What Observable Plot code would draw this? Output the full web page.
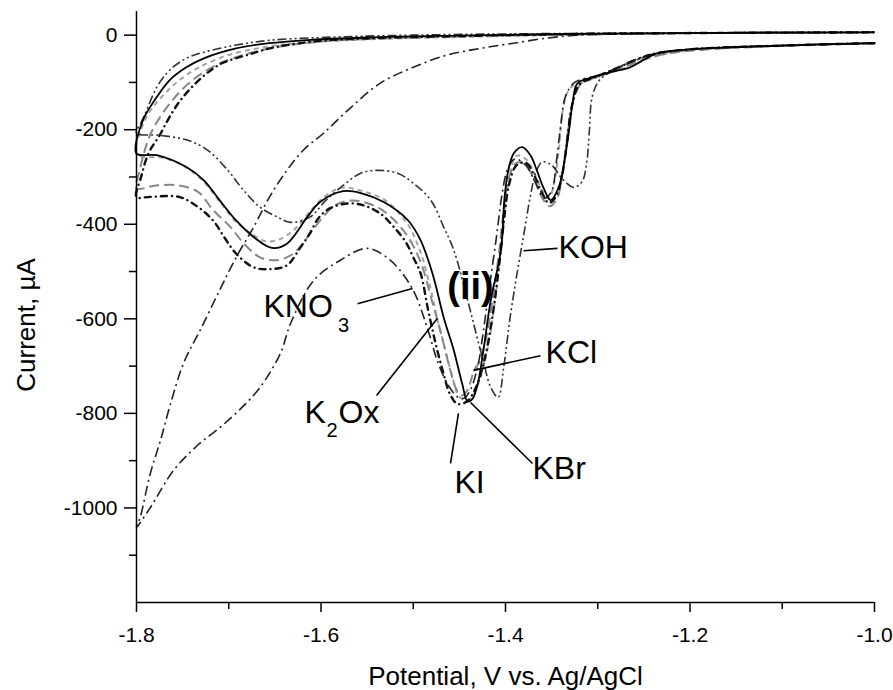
<!DOCTYPE html>
<html>
<head>
<meta charset="utf-8">
<script src="https://cdn.jsdelivr.net/npm/d3@7"></script>
<script src="https://cdn.jsdelivr.net/npm/@observablehq/plot@0.6"></script>
<style>
  html, body { margin: 0; padding: 0; background: #fff; overflow: hidden; }
  #chart svg { display: block; }
</style>
</head>
<body>
<div id="chart"></div>
<script>
// Cyclic voltammograms (ii) in different potassium electrolytes.
// Each loop: negative-going scan from -1.0 V to -1.8 V, then the return scan.

// K2Ox (potassium oxalate)
const k2oxV = [-1.000,-1.100,-1.200,-1.238,-1.258,-1.275,-1.295,-1.315,-1.330,-1.338,-1.342,-1.347,-1.353,-1.360,-1.368,-1.378,-1.388,-1.395,-1.400,-1.405,-1.412,-1.420,-1.430,-1.440,-1.450,-1.458,-1.466,-1.474,-1.482,-1.492,-1.506,-1.530,-1.555,-1.578,-1.597,-1.615,-1.630,-1.645,-1.660,-1.675,-1.692,-1.710,-1.727,-1.746,-1.770,-1.800,
               -1.795,-1.785,-1.770,-1.752,-1.730,-1.700,-1.660,-1.620,-1.550,-1.450,-1.300,-1.150,-1.000];
const k2oxI = [-17,-22,-32,-45,-60,-72,-85,-100,-112,-160,-240,-310,-345,-330,-295,-262,-255,-290,-360,-460,-570,-670,-740,-772,-765,-720,-660,-599,-530,-460,-400,-350,-330,-323,-343,-380,-413,-432,-436,-420,-395,-352,-310,-280,-260,-252,
               -200,-160,-125,-93,-66,-42,-25,-16,-9,-4,2,5,6];

// KCl
const kclV = [-1.000,-1.100,-1.200,-1.240,-1.262,-1.280,-1.300,-1.318,-1.328,-1.333,-1.338,-1.344,-1.352,-1.360,-1.368,-1.378,-1.388,-1.396,-1.402,-1.407,-1.414,-1.422,-1.428,-1.434,-1.441,-1.447,-1.453,-1.461,-1.470,-1.480,-1.492,-1.508,-1.530,-1.550,-1.568,-1.585,-1.598,-1.610,-1.630,-1.648,-1.666,-1.684,-1.698,-1.717,-1.733,-1.754,-1.779,-1.800,
              -1.797,-1.792,-1.785,-1.775,-1.762,-1.748,-1.730,-1.710,-1.688,-1.660,-1.630,-1.590,-1.530,-1.450,-1.300,-1.150,-1.000];
const kclI = [-17,-23,-33,-45,-60,-73,-88,-103,-150,-215,-290,-345,-362,-345,-310,-275,-270,-300,-370,-460,-560,-650,-690,-709,-750,-762,-750,-700,-630,-560,-480,-420,-375,-355,-350,-360,-385,-415,-462,-476,-470,-440,-406,-370,-332,-318,-318,-324,
              -290,-250,-210,-175,-140,-110,-82,-60,-44,-30,-20,-12,-7,-3,2,5,6];

// KOH
const kohV = [-1.000,-1.100,-1.200,-1.240,-1.265,-1.283,-1.298,-1.306,-1.309,-1.312,-1.317,-1.326,-1.338,-1.350,-1.360,-1.367,-1.373,-1.380,-1.388,-1.395,-1.402,-1.408,-1.416,-1.424,-1.432,-1.441,-1.456,-1.467,-1.481,-1.500,-1.517,-1.539,-1.557,-1.576,-1.595,-1.612,-1.633,-1.647,-1.666,-1.684,-1.701,-1.723,-1.745,-1.774,-1.800,
              -1.795,-1.789,-1.778,-1.764,-1.746,-1.727,-1.692,-1.656,-1.600,-1.500,-1.300,-1.000];
const kohI = [-17,-22,-30,-42,-58,-75,-95,-130,-200,-270,-310,-322,-305,-275,-268,-290,-340,-420,-510,-597,-703,-766,-745,-690,-630,-561,-455,-406,-349,-313,-292,-286,-292,-318,-350,-385,-396,-385,-364,-328,-286,-243,-222,-212,-207,
              -185,-159,-110,-74,-49,-36,-21,-11,-5,0,4,6];

// KNO3
const kno3V = [-1.000,-1.100,-1.200,-1.240,-1.260,-1.280,-1.300,-1.325,-1.335,-1.340,-1.345,-1.350,-1.358,-1.368,-1.378,-1.390,-1.398,-1.404,-1.410,-1.418,-1.425,-1.430,-1.438,-1.445,-1.452,-1.463,-1.474,-1.485,-1.501,-1.525,-1.550,-1.579,-1.608,-1.633,-1.644,-1.666,-1.687,-1.709,-1.734,-1.760,-1.785,-1.800,
               -1.796,-1.785,-1.774,-1.763,-1.749,-1.731,-1.710,-1.692,-1.673,-1.656,-1.637,-1.619,-1.597,-1.571,-1.536,-1.500,-1.463,-1.427,-1.391,-1.354,-1.320,-1.250,-1.150,-1.000];
const kno3I = [-17,-22,-30,-40,-52,-70,-85,-100,-130,-190,-270,-330,-345,-310,-275,-262,-285,-340,-430,-540,-640,-700,-750,-768,-765,-737,-688,-618,-536,-476,-451,-476,-519,-610,-673,-745,-790,-829,-868,-921,-999,-1041,
               -1020,-927,-857,-779,-694,-624,-540,-470,-406,-343,-286,-243,-207,-159,-102,-68,-42,-28,-17,-6,0,3,5,6];

// KI
const kiV = [-1.000,-1.100,-1.200,-1.240,-1.262,-1.282,-1.302,-1.320,-1.328,-1.333,-1.338,-1.345,-1.353,-1.360,-1.368,-1.378,-1.388,-1.396,-1.401,-1.406,-1.413,-1.422,-1.432,-1.442,-1.452,-1.460,-1.468,-1.476,-1.484,-1.492,-1.500,-1.508,-1.521,-1.536,-1.554,-1.571,-1.590,-1.602,-1.612,-1.623,-1.637,-1.656,-1.673,-1.692,-1.705,-1.717,-1.733,-1.754,-1.785,-1.800,
             -1.795,-1.787,-1.775,-1.765,-1.754,-1.740,-1.724,-1.708,-1.689,-1.673,-1.656,-1.637,-1.600,-1.550,-1.450,-1.300,-1.000];
const kiI = [-17,-22,-30,-40,-55,-72,-88,-105,-150,-220,-290,-340,-355,-335,-300,-270,-275,-315,-380,-470,-580,-680,-745,-775,-780,-760,-710,-650,-580,-504,-470,-438,-406,-377,-360,-356,-366,-385,-419,-451,-487,-495,-491,-462,-427,-392,-364,-342,-342,-342,
             -300,-250,-212,-176,-142,-110,-81,-60,-47,-38,-28,-21,-12,-7,-2,3,6];

// KBr
const kbrV = [-1.000,-1.100,-1.200,-1.235,-1.250,-1.265,-1.286,-1.305,-1.322,-1.327,-1.331,-1.336,-1.342,-1.351,-1.359,-1.366,-1.373,-1.382,-1.391,-1.397,-1.401,-1.405,-1.416,-1.424,-1.430,-1.436,-1.441,-1.447,-1.456,-1.467,-1.479,-1.492,-1.506,-1.532,-1.555,-1.576,-1.601,-1.615,-1.637,-1.653,-1.673,-1.692,-1.710,-1.727,-1.746,-1.778,-1.800,
              -1.793,-1.778,-1.764,-1.746,-1.727,-1.692,-1.656,-1.619,-1.550,-1.450,-1.300,-1.150,-1.000];
const kbrI = [-17,-22,-30,-38,-52,-68,-78,-89,-102,-140,-200,-265,-320,-349,-322,-286,-254,-237,-250,-286,-343,-455,-561,-667,-737,-770,-775,-737,-667,-597,-505,-434,-391,-353,-335,-330,-353,-385,-441,-450,-427,-392,-349,-307,-279,-254,-250,
              -180,-131,-95,-68,-49,-28,-17,-11,-5,-1,3,5,6];

// Axis ticks
const xMajor = [-1.8, -1.6, -1.4, -1.2, -1.0];
const xMinor = [-1.7, -1.5, -1.3, -1.1];
const yMajor = [0, -200, -400, -600, -800, -1000];
const yMinor = [-100, -300, -500, -700, -900, -1100];

// Curve labels (text start, baseline) and their leader lines
const labelText = ["KNO", "K", "Ox", "KI", "KBr", "KCl", "KOH"];
const labelV = [-1.6623, -1.6179, -1.5810, -1.4553, -1.3707, -1.3566, -1.3425];
const labelI = [-597, -821, -821, -969, -938, -694, -472];
const subText = ["3", "2"];
const subV = [-1.5815, -1.5940];
const subI = [-627, -849];
const leaderV1 = [-1.5604, -1.5398, -1.4596, -1.3707, -1.3621, -1.3436];
const leaderI1 = [-568, -762, -906, -906, -678, -451];
const leaderV2 = [-1.5008, -1.4737, -1.4510, -1.4379, -1.4347, -1.3805];
const leaderI2 = [-536, -599, -800, -777, -709, -456];
const panelText = ["(ii)"];
const panelV = [-1.4379];
const panelI = [-532];

const series = [
  {v: k2oxV, i: k2oxI, stroke: "#a3a3a3", width: 2, dash: "5,4"},
  {v: kclV, i: kclI, stroke: "#878787", width: 2, dash: "10,5"},
  {v: kohV, i: kohI, stroke: "#333", width: 1.6, dash: "9,3,2,3,2,3"},
  {v: kno3V, i: kno3I, stroke: "#222", width: 1.6, dash: "10,4,2,4"},
  {v: kiV, i: kiI, stroke: "#111", width: 2.4, dash: "6,5,0.1,5", cap: "round"},
  {v: kbrV, i: kbrI, stroke: "#000", width: 1.8, dash: null}
];

const font = "'Liberation Sans', Arial, Helvetica, sans-serif";

const curveMarks = series.map(s => Plot.line(s.v.map((v, j) => [v, s.i[j]]), {
  x: d => d[0], y: d => d[1],
  stroke: s.stroke, strokeWidth: s.width,
  strokeDasharray: s.dash, strokeLinecap: s.cap || "butt",
  curve: "catmull-rom"
}));

const chart = Plot.plot({
  width: 893,
  height: 690,
  marginLeft: 136,
  marginRight: 19,
  marginTop: 11,
  marginBottom: 88,
  style: {fontFamily: font, background: "white", color: "black", overflow: "visible"},
  x: {domain: [-1.8, -1.0], axis: null},
  y: {domain: [-1200, 50], axis: null},
  marks: [
    ...curveMarks,
    // axis lines
    Plot.ruleX([-1.8], {y1: -1200, y2: 50, stroke: "black", strokeWidth: 1.5}),
    Plot.ruleY([-1200], {x1: -1.8, x2: -1.0, stroke: "black", strokeWidth: 1.5}),
    // ticks
    Plot.axisY(yMajor, {anchor: "left", tickSize: 12, tickPadding: 7, fontSize: 21, strokeWidth: 1.5, tickFormat: d => String(d), label: null}),
    Plot.axisY(yMinor, {anchor: "left", tickSize: 7, tickPadding: 0, strokeWidth: 1.5, tickFormat: () => "", label: null}),
    Plot.axisX(xMajor, {anchor: "bottom", tickSize: 10, tickPadding: 15, fontSize: 21, strokeWidth: 1.5, tickFormat: d => d.toFixed(1), label: null}),
    Plot.axisX(xMinor, {anchor: "bottom", tickSize: 7, tickPadding: 0, strokeWidth: 1.5, tickFormat: () => "", label: null}),
    // axis titles
    Plot.text(["Current, µA"], {frameAnchor: "left", textAnchor: "middle", lineAnchor: "middle", rotate: -90, dx: -110, dy: 18, fontSize: 26, fill: "black"}),
    Plot.text(["Potential, V vs. Ag/AgCl"], {frameAnchor: "bottom", textAnchor: "middle", lineAnchor: "middle", dy: 74, fontSize: 26, fill: "black"}),
    // leader lines and labels
    Plot.link(leaderV1, {x1: leaderV1, y1: leaderI1, x2: leaderV2, y2: leaderI2, stroke: "black", strokeWidth: 1.6}),
    Plot.text(labelText, {x: labelV, y: labelI, text: labelText, textAnchor: "start", lineAnchor: "bottom", fontSize: 32, fill: "black"}),
    Plot.text(subText, {x: subV, y: subI, text: subText, textAnchor: "start", lineAnchor: "bottom", fontSize: 20, fill: "black"}),
    Plot.text(panelText, {x: panelV, y: panelI, text: panelText, textAnchor: "middle", lineAnchor: "middle", fontSize: 38, fontWeight: "bold", fill: "black"})
  ]
});

document.getElementById("chart").appendChild(chart);
</script>
</body>
</html>
